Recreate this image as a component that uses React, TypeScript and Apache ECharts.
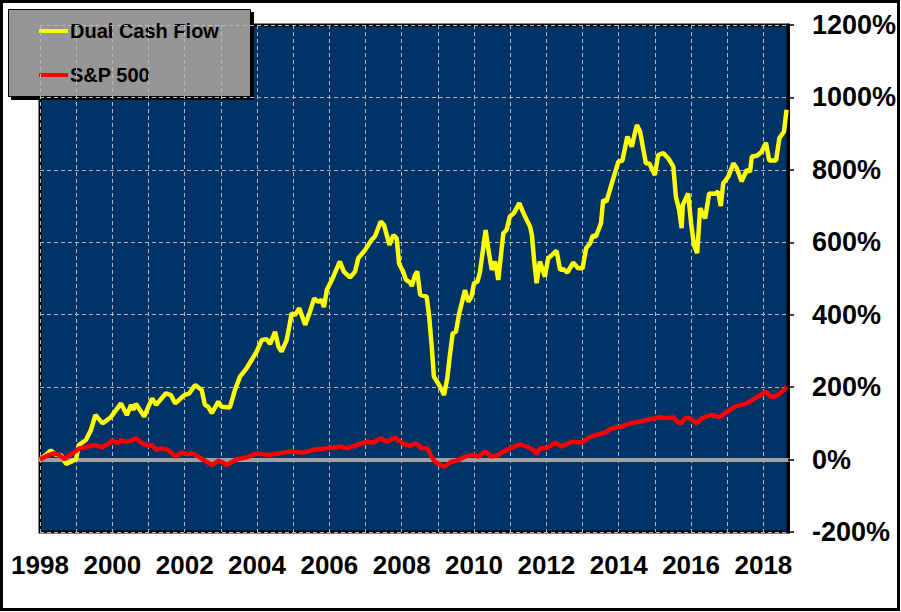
import React, { useEffect, useRef } from "react";
import * as echarts from "echarts";

const dcfYears = [
  1998.0, 1998.15, 1998.3, 1998.44, 1998.58, 1998.72, 1998.86, 1999.0, 1999.07, 1999.27,
  1999.41, 1999.53, 1999.73, 1999.96, 2000.24, 2000.4, 2000.52, 2000.58, 2000.65, 2000.88,
  2001.1, 2001.21, 2001.48, 2001.62, 2001.74, 2001.99, 2002.13, 2002.29, 2002.47, 2002.56,
  2002.65, 2002.75, 2002.93, 2003.02, 2003.25, 2003.39, 2003.53, 2003.71, 2003.85, 2003.99,
  2004.13, 2004.27, 2004.36, 2004.5, 2004.59, 2004.68, 2004.82, 2004.96, 2005.05, 2005.17,
  2005.33, 2005.45, 2005.58, 2005.69, 2005.78, 2005.85, 2005.93, 2006.11, 2006.29, 2006.4,
  2006.57, 2006.71, 2006.8, 2006.99, 2007.17, 2007.26, 2007.42, 2007.51, 2007.66, 2007.77,
  2007.86, 2007.93, 2008.04, 2008.12, 2008.23, 2008.28, 2008.37, 2008.43, 2008.51, 2008.69,
  2008.76, 2008.83, 2008.89, 2008.98, 2009.11, 2009.17, 2009.26, 2009.34, 2009.41, 2009.5,
  2009.59, 2009.75, 2009.84, 2009.93, 2010.0, 2010.09, 2010.16, 2010.32, 2010.39, 2010.49,
  2010.58, 2010.67, 2010.81, 2010.9, 2010.99, 2011.1, 2011.25, 2011.41, 2011.55, 2011.6,
  2011.66, 2011.73, 2011.82, 2011.96, 2012.05, 2012.19, 2012.28, 2012.38, 2012.47, 2012.58,
  2012.74, 2012.88, 2013.0, 2013.1, 2013.21, 2013.28, 2013.37, 2013.51, 2013.57, 2013.66,
  2013.81, 2013.99, 2014.1, 2014.24, 2014.36, 2014.5, 2014.59, 2014.75, 2014.85, 2015.0,
  2015.09, 2015.23, 2015.37, 2015.51, 2015.58, 2015.67, 2015.74, 2015.77, 2015.92, 2016.0,
  2016.08, 2016.17, 2016.25, 2016.39, 2016.5, 2016.66, 2016.75, 2016.82, 2016.89, 2017.03,
  2017.17, 2017.26, 2017.4, 2017.54, 2017.63, 2017.68, 2017.82, 2017.95, 2018.07, 2018.16,
  2018.35, 2018.44, 2018.57, 2018.64,
];
const dcfValues = [
  0, 12, 25, 13, 12, -12, -6, 2, 40, 54,
  82, 123, 100, 117, 155, 123, 151, 137, 154, 119,
  169, 151, 183, 178, 155, 178, 183, 206, 192, 151,
  146, 128, 160, 146, 144, 192, 229, 252, 275, 298,
  330, 332, 319, 353, 312, 298, 330, 404, 399, 418,
  372, 404, 445, 436, 441, 421, 468, 505, 547, 519,
  503, 519, 556, 579, 607, 616, 657, 648, 593, 620,
  611, 540, 519, 496, 489, 479, 510, 519, 455, 450,
  395, 312, 229, 215, 192, 178, 225, 294, 349, 353,
  404, 468, 436, 450, 487, 491, 515, 634, 584, 524,
  547, 496, 625, 634, 671, 680, 708, 671, 643, 620,
  551, 487, 547, 505, 556, 568, 577, 524, 526, 516,
  544, 528, 528, 584, 597, 618, 616, 653, 717, 712,
  763, 823, 825, 892, 864, 924, 906, 818, 817, 786,
  841, 846, 832, 809, 726, 689, 639, 703, 735, 653,
  593, 570, 694, 666, 735, 734, 740, 700, 763, 781,
  818, 805, 768, 800, 795, 837, 839, 850, 875, 826,
  826, 887, 906, 966,
];

const spYears = [
  1998.0, 1998.25, 1998.39, 1998.53, 1998.67, 1998.9, 1999.09, 1999.27, 1999.5, 1999.73,
  2000.01, 2000.15, 2000.24, 2000.38, 2000.52, 2000.65, 2000.79, 2000.98, 2001.1, 2001.21,
  2001.35, 2001.53, 2001.76, 2001.9, 2002.08, 2002.22, 2002.35, 2002.52, 2002.75, 2002.93,
  2003.05, 2003.16, 2003.44, 2003.72, 2003.99, 2004.31, 2004.6, 2004.91, 2005.28, 2005.56,
  2005.93, 2006.2, 2006.3, 2006.48, 2006.85, 2007.03, 2007.22, 2007.42, 2007.59, 2007.82,
  2008.05, 2008.23, 2008.4, 2008.55, 2008.71, 2008.83, 2008.92, 2009.17, 2009.38, 2009.52,
  2009.75, 2009.98, 2010.12, 2010.3, 2010.49, 2010.67, 2010.81, 2011.0, 2011.27, 2011.46,
  2011.64, 2011.73, 2011.82, 2012.01, 2012.24, 2012.42, 2012.7, 2012.98, 2013.21, 2013.39,
  2013.62, 2013.81, 2014.08, 2014.31, 2014.59, 2014.85, 2015.01, 2015.14, 2015.33, 2015.51,
  2015.61, 2015.74, 2015.83, 2015.97, 2016.16, 2016.3, 2016.53, 2016.8, 2016.99, 2017.22,
  2017.54, 2017.86, 2018.07, 2018.19, 2018.32, 2018.46, 2018.65,
];
const spValues = [
  0, 13, 17, 13, 1, 17, 31, 34, 40, 34,
  52, 45, 54, 49, 52, 59, 47, 38, 40, 27,
  31, 27, 8, 19, 15, 17, 10, -1, -15, -3,
  -8, -15, 1, 6, 17, 13, 17, 22, 19, 27,
  31, 34, 36, 31, 43, 49, 47, 59, 49, 60,
  43, 38, 45, 31, 31, 8, -6, -20, -6, -3,
  8, 13, 8, 22, 8, 13, 22, 31, 42, 36,
  27, 15, 31, 31, 47, 36, 49, 47, 62, 68,
  74, 86, 91, 100, 105, 111, 114, 117, 114, 117,
  105, 100, 114, 114, 100, 114, 123, 118, 132, 146,
  155, 174, 188, 174, 174, 183, 201,
];

const seriesNames = ["Dual Cash Flow", "S&P 500"];
const seriesColors = ["#FFFF00", "#FF0000"];
const xMin = 1998;
const xMax = 2018.68;
const yMin = -200;
const yMax = 1200;
const yStep = 200;

const FONT = "'Liberation Sans', Arial, sans-serif";

export default function App() {
  const ref = useRef<HTMLDivElement>(null);

  useEffect(() => {
    document.body.style.margin = "0";
    if (!ref.current) return;
    const chart = echarts.init(ref.current, null, { renderer: "svg" });

    const gridLine = { show: true, lineStyle: { color: "#b8b8b8", type: [4, 3], width: 1 } };

    const option = {
      animation: false,
      backgroundColor: "#ffffff",
      grid: {
        left: 40,
        top: 25,
        right: 113,
        bottom: 80,
        show: true,
        backgroundColor: "#003366",
        borderColor: "#000000",
        borderWidth: 3,
        containLabel: false,
      },
      xAxis: [
        {
          type: "value",
          min: xMin,
          max: xMax,
          interval: 1,
          position: "bottom",
          axisLine: { show: false, onZero: false },
          axisTick: { show: false },
          axisLabel: {
            color: "#000",
            fontFamily: FONT,
            fontWeight: "bold",
            fontSize: 26,
            margin: 20,
            showMaxLabel: false,
            formatter: (v: number) =>
              Math.abs(v - Math.round(v)) < 1e-6 && Math.round(v) % 2 === 0 ? String(Math.round(v)) : "",
          },
          splitLine: gridLine,
        },
        {
          type: "value",
          min: xMin,
          max: xMax,
          position: "top",
          axisLine: { show: true, onZero: true, lineStyle: { color: "#a0a0a0", width: 4 } },
          axisTick: { show: false },
          axisLabel: { show: false },
          splitLine: { show: false },
        },
      ],
      yAxis: {
        type: "value",
        position: "right",
        min: yMin,
        max: yMax,
        interval: yStep,
        axisLine: { show: true, onZero: false, lineStyle: { color: "#000", width: 3 } },
        axisTick: { show: true, inside: false, length: 6, lineStyle: { color: "#000", width: 1.5 } },
        axisLabel: {
          color: "#000",
          fontFamily: FONT,
          fontWeight: "bold",
          fontSize: 27,
          margin: 24,
          formatter: (v: number) => `${v}%`,
        },
        splitLine: gridLine,
      },
      series: [
        {
          name: seriesNames[0],
          type: "line",
          xAxisIndex: 0,
          showSymbol: false,
          symbol: "none",
          data: dcfYears.map((t, i) => [t, dcfValues[i]]),
          lineStyle: { color: seriesColors[0], width: 4.5 },
          z: 3,
        },
        {
          name: seriesNames[1],
          type: "line",
          xAxisIndex: 0,
          showSymbol: false,
          symbol: "none",
          data: spYears.map((t, i) => [t, spValues[i]]),
          lineStyle: { color: seriesColors[1], width: 4.5 },
          z: 4,
        },
      ],
      graphic: [
        {
          type: "rect",
          z: 100,
          shape: { x: 1.5, y: 1.5, width: 897, height: 608 },
          style: { fill: "none", stroke: "#000", lineWidth: 3 },
        },
        {
          type: "group",
          z: 100,
          children: [
            {
              type: "rect",
              shape: { x: 11, y: 12, width: 243, height: 88 },
              style: { fill: "#000" },
            },
            {
              type: "rect",
              shape: { x: 8.5, y: 9.5, width: 242, height: 87 },
              style: { fill: "#969696", stroke: "#000", lineWidth: 1 },
            },
            {
              type: "line",
              shape: { x1: 39, y1: 31, x2: 68, y2: 31 },
              style: { stroke: seriesColors[0], lineWidth: 4 },
            },
            {
              type: "text",
              x: 70,
              y: 31,
              style: {
                text: seriesNames[0],
                fill: "#000",
                font: `bold 20px ${FONT}`,
                verticalAlign: "middle",
                align: "left",
              },
            },
            {
              type: "line",
              shape: { x1: 39, y1: 75, x2: 68, y2: 75 },
              style: { stroke: seriesColors[1], lineWidth: 4 },
            },
            {
              type: "text",
              x: 70,
              y: 75,
              style: {
                text: seriesNames[1],
                fill: "#000",
                font: `bold 20px ${FONT}`,
                verticalAlign: "middle",
                align: "left",
              },
            },
          ],
        },
      ],
    };

    chart.setOption(option as any);
    return () => chart.dispose();
  }, []);

  return <div ref={ref} style={{ width: 901, height: 612 }} />;
}
